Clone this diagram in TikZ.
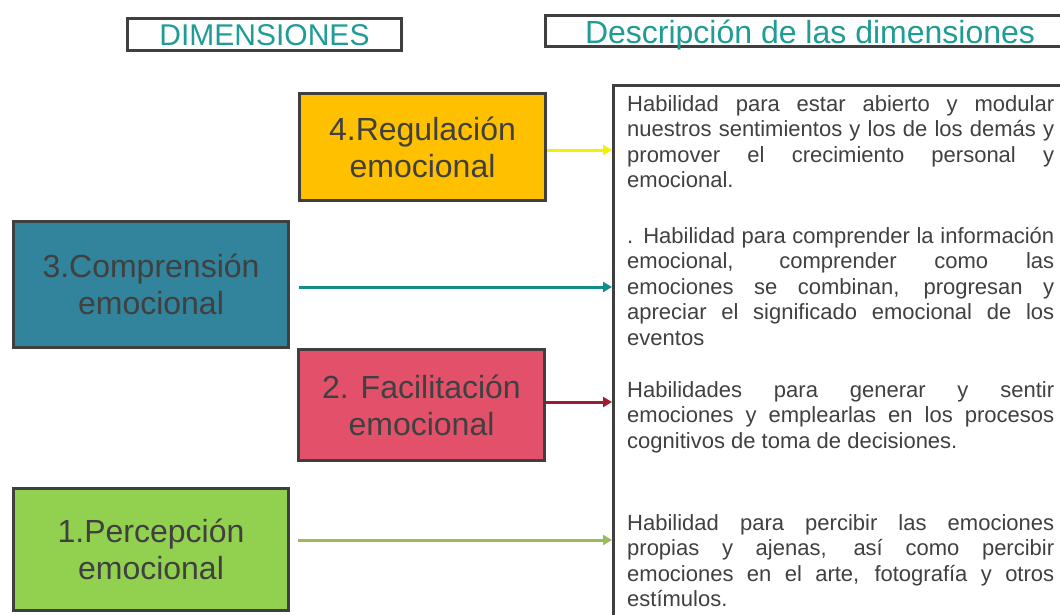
\documentclass[tikz,border=0pt]{standalone}
\usepackage{fontspec}
\setmainfont{Liberation Sans}
\usetikzlibrary{arrows.meta}
\definecolor{headteal}{HTML}{1F9C96}
\definecolor{boxline}{HTML}{3F3F3F}
\definecolor{boxtext}{HTML}{404040}
\definecolor{fillreg}{HTML}{FFC000}
\definecolor{fillcomp}{HTML}{31849B}
\definecolor{fillfac}{HTML}{E3506A}
\definecolor{fillper}{HTML}{92D050}
\definecolor{arrreg}{HTML}{F2F200}
\definecolor{arrcomp}{HTML}{128C8C}
\definecolor{arrfac}{HTML}{9E1B32}
\definecolor{arrper}{HTML}{9BBB59}
\newcommand{\desc}[1]{\parbox[t]{427pt}{\hyphenpenalty=10000\hbadness=10000\fontsize{22}{25.5}\selectfont #1}}
\begin{document}
\begin{tikzpicture}
[
    x=1pt, y=-1pt,
    header/.style={shape=rectangle, draw=boxline, line width=3pt, text=headteal, inner sep=0pt,
        text height=22pt, text depth=0pt},
    dim/.style={shape=rectangle, draw=boxline, line width=3pt, text=boxtext, align=center,
        inner sep=0pt, font=\fontsize{32}{37}\selectfont},
    desctext/.style={text=boxtext, inner sep=0pt, anchor=base west},
    link/.style={line width=3pt, -{Triangle[length=9pt,width=10pt]}},
]
\useasboundingbox (0,0) rectangle (1060,614);
\clip (0,0) rectangle (1060,614);
\fill[white] (0,0) rectangle (1060,614);

\node[header, minimum width=274pt, minimum height=32pt, font=\fontsize{30}{34}\selectfont]
    (hdim) at (264.5,34.5) {DIMENSIONES};
\node[header, minimum width=533pt, minimum height=31pt, font=\fontsize{32}{36}\selectfont]
    (hdesc) at (812,31) {};
\node[text=headteal, inner sep=0pt, anchor=base, font=\fontsize{32}{36}\selectfont]
    (tdesc) at (810,43.5) {Descripción de las dimensiones};

\node[draw=boxline, line width=3pt, anchor=north west, minimum width=480pt, minimum height=560pt]
    (desc) at (612,84) {};

\node[dim, fill=fillreg, minimum width=246pt, minimum height=107pt] (reg) at (422.5,147)
    {4.Regulación\\emocional};
\node[dim, fill=fillcomp, minimum width=275pt, minimum height=126pt] (comp) at (151,284.5)
    {3.Comprensión\\emocional};
\node[dim, fill=fillfac, minimum width=246pt, minimum height=111pt] (fac) at (421.5,405)
    {2. Facilitación\\emocional};
\node[dim, fill=fillper, minimum width=275pt, minimum height=122pt] (per) at (151,549.5)
    {1.Percepción\\emocional};

\node[desctext] (dreg) at (627,111) {\desc{Habilidad para estar abierto y modular\linebreak
    nuestros sentimientos y los de los demás y\linebreak
    promover el crecimiento personal y\linebreak
    emocional.}};
\node[desctext] (dcomp) at (627,243) {\desc{. Habilidad para comprender la información\linebreak
    emocional, comprender como las\linebreak
    emociones se combinan, progresan y\linebreak
    apreciar el significado emocional de los\linebreak
    eventos}};
\node[desctext] (dfac) at (627,397) {\desc{Habilidades para generar y sentir\linebreak
    emociones y emplearlas en los procesos\linebreak
    cognitivos de toma de decisiones.}};
\node[desctext] (dper) at (627,530) {\desc{Habilidad para percibir las emociones\linebreak
    propias y ajenas, así como percibir\linebreak
    emociones en el arte, fotografía y otros\linebreak
    estímulos.}};

\draw[link, arrreg] ([yshift=-3pt]reg.east) -- ([yshift=-3pt]reg.east -| desc.west);
\draw[link, arrcomp, shorten <=9pt] ([yshift=-2.5pt]comp.east) -- ([yshift=-2.5pt]comp.east -| desc.west);
\draw[link, arrfac] ([yshift=3pt]fac.east) -- ([yshift=3pt]fac.east -| desc.west);
\draw[link, arrper, shorten <=8pt] ([yshift=9.5pt]per.east) -- ([yshift=9.5pt]per.east -| desc.west);
\end{tikzpicture}
\end{document}
